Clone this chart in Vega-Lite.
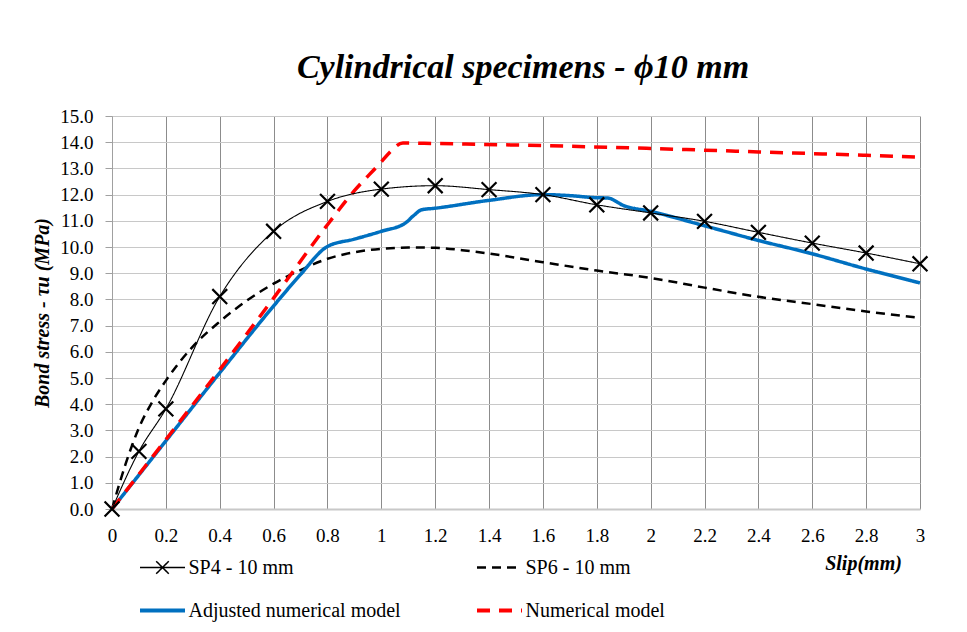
{
  "$schema": "https://vega.github.io/schema/vega-lite/v6.json",
  "width": 808,
  "height": 393,
  "autosize": {"type": "none"},
  "padding": {"left": 112, "top": 116, "right": 47, "bottom": 123},
  "background": "white",
  "title": {"text": "Cylindrical specimens - ϕ10 mm", "font": "Liberation Serif", "fontSize": 34, "fontStyle": "italic", "fontWeight": "bold", "color": "black", "anchor": "middle", "offset": 22, "dx": 7},
  "config": {"view": {"stroke": null}, "font": "Liberation Serif"},
  "data": {"values": [
    {"series": "SP6 - 10 mm", "x": 0, "y": 0},
    {"series": "SP6 - 10 mm", "x": 0.05, "y": 1.7},
    {"series": "SP6 - 10 mm", "x": 0.1, "y": 3.1},
    {"series": "SP6 - 10 mm", "x": 0.15, "y": 4.1},
    {"series": "SP6 - 10 mm", "x": 0.2, "y": 4.9},
    {"series": "SP6 - 10 mm", "x": 0.3, "y": 6.2},
    {"series": "SP6 - 10 mm", "x": 0.4, "y": 7.15},
    {"series": "SP6 - 10 mm", "x": 0.5, "y": 7.95},
    {"series": "SP6 - 10 mm", "x": 0.6, "y": 8.6},
    {"series": "SP6 - 10 mm", "x": 0.7, "y": 9.12},
    {"series": "SP6 - 10 mm", "x": 0.8, "y": 9.55},
    {"series": "SP6 - 10 mm", "x": 0.9, "y": 9.8},
    {"series": "SP6 - 10 mm", "x": 1.0, "y": 9.93},
    {"series": "SP6 - 10 mm", "x": 1.1, "y": 9.98},
    {"series": "SP6 - 10 mm", "x": 1.2, "y": 9.97},
    {"series": "SP6 - 10 mm", "x": 1.3, "y": 9.88},
    {"series": "SP6 - 10 mm", "x": 1.4, "y": 9.75},
    {"series": "SP6 - 10 mm", "x": 1.6, "y": 9.42},
    {"series": "SP6 - 10 mm", "x": 1.8, "y": 9.1},
    {"series": "SP6 - 10 mm", "x": 2.0, "y": 8.82},
    {"series": "SP6 - 10 mm", "x": 2.2, "y": 8.45},
    {"series": "SP6 - 10 mm", "x": 2.4, "y": 8.1},
    {"series": "SP6 - 10 mm", "x": 2.6, "y": 7.82},
    {"series": "SP6 - 10 mm", "x": 2.8, "y": 7.54},
    {"series": "SP6 - 10 mm", "x": 3.0, "y": 7.3},
    {"series": "Adjusted numerical model", "x": 0, "y": 0},
    {"series": "Adjusted numerical model", "x": 0.2, "y": 2.6},
    {"series": "Adjusted numerical model", "x": 0.4, "y": 5.2},
    {"series": "Adjusted numerical model", "x": 0.6, "y": 7.75},
    {"series": "Adjusted numerical model", "x": 0.7, "y": 8.95},
    {"series": "Adjusted numerical model", "x": 0.8, "y": 10.02},
    {"series": "Adjusted numerical model", "x": 0.9, "y": 10.3},
    {"series": "Adjusted numerical model", "x": 1.0, "y": 10.6},
    {"series": "Adjusted numerical model", "x": 1.09, "y": 10.92},
    {"series": "Adjusted numerical model", "x": 1.12, "y": 11.2},
    {"series": "Adjusted numerical model", "x": 1.15, "y": 11.42},
    {"series": "Adjusted numerical model", "x": 1.2, "y": 11.48},
    {"series": "Adjusted numerical model", "x": 1.4, "y": 11.78},
    {"series": "Adjusted numerical model", "x": 1.6, "y": 12.0},
    {"series": "Adjusted numerical model", "x": 1.7, "y": 11.96},
    {"series": "Adjusted numerical model", "x": 1.8, "y": 11.88},
    {"series": "Adjusted numerical model", "x": 1.84, "y": 11.87},
    {"series": "Adjusted numerical model", "x": 1.9, "y": 11.58},
    {"series": "Adjusted numerical model", "x": 2.0, "y": 11.36},
    {"series": "Adjusted numerical model", "x": 2.2, "y": 10.81},
    {"series": "Adjusted numerical model", "x": 2.4, "y": 10.25},
    {"series": "Adjusted numerical model", "x": 2.6, "y": 9.74},
    {"series": "Adjusted numerical model", "x": 2.8, "y": 9.16},
    {"series": "Adjusted numerical model", "x": 3.0, "y": 8.63},
    {"series": "Numerical model", "x": 0, "y": 0},
    {"series": "Numerical model", "x": 0.2, "y": 2.65},
    {"series": "Numerical model", "x": 0.4, "y": 5.32},
    {"series": "Numerical model", "x": 0.6, "y": 8.05},
    {"series": "Numerical model", "x": 0.8, "y": 10.85},
    {"series": "Numerical model", "x": 0.9, "y": 12.15},
    {"series": "Numerical model", "x": 1.0, "y": 13.25},
    {"series": "Numerical model", "x": 1.03, "y": 13.6},
    {"series": "Numerical model", "x": 1.08, "y": 13.97},
    {"series": "Numerical model", "x": 1.2, "y": 13.95},
    {"series": "Numerical model", "x": 1.6, "y": 13.87},
    {"series": "Numerical model", "x": 2.0, "y": 13.76},
    {"series": "Numerical model", "x": 2.4, "y": 13.63},
    {"series": "Numerical model", "x": 2.8, "y": 13.5},
    {"series": "Numerical model", "x": 3.0, "y": 13.43},
    {"series": "SP4 - 10 mm", "x": 0, "y": 0},
    {"series": "SP4 - 10 mm", "x": 0.1, "y": 2.2},
    {"series": "SP4 - 10 mm", "x": 0.2, "y": 3.82},
    {"series": "SP4 - 10 mm", "x": 0.4, "y": 8.11},
    {"series": "SP4 - 10 mm", "x": 0.6, "y": 10.6},
    {"series": "SP4 - 10 mm", "x": 0.8, "y": 11.74},
    {"series": "SP4 - 10 mm", "x": 1.0, "y": 12.21},
    {"series": "SP4 - 10 mm", "x": 1.2, "y": 12.34},
    {"series": "SP4 - 10 mm", "x": 1.4, "y": 12.19},
    {"series": "SP4 - 10 mm", "x": 1.6, "y": 12.0},
    {"series": "SP4 - 10 mm", "x": 1.8, "y": 11.61},
    {"series": "SP4 - 10 mm", "x": 2.0, "y": 11.3},
    {"series": "SP4 - 10 mm", "x": 2.2, "y": 10.98},
    {"series": "SP4 - 10 mm", "x": 2.4, "y": 10.56},
    {"series": "SP4 - 10 mm", "x": 2.6, "y": 10.15},
    {"series": "SP4 - 10 mm", "x": 2.8, "y": 9.77},
    {"series": "SP4 - 10 mm", "x": 3.0, "y": 9.36}
  ]},
  "encoding": {
    "x": {"field": "x", "type": "quantitative",
      "scale": {"domain": [0, 3], "nice": false, "zero": false},
      "axis": {"values": [0, 0.2, 0.4, 0.6, 0.8, 1, 1.2, 1.4, 1.6, 1.8, 2, 2.2, 2.4, 2.6, 2.8, 3], "format": "~g",
        "grid": true, "gridColor": "#8c8c8c", "gridWidth": 1,
        "domain": true, "domainColor": "#c8c8c8", "domainWidth": 2,
        "ticks": false, "tickSize": 0, "labelPadding": 17, "labelFlush": false, "labelOverlap": false,
        "labelFont": "Liberation Serif", "labelFontSize": 19, "labelColor": "black",
        "title": "Slip(mm)", "titleFont": "Liberation Serif", "titleFontSize": 20, "titleFontStyle": "italic", "titleFontWeight": "bold", "titleColor": "black",
        "titleX": 751, "titleY": 54, "titleAlign": "center", "titleBaseline": "middle"}},
    "y": {"field": "y", "type": "quantitative",
      "scale": {"domain": [0, 15], "nice": false, "zero": false},
      "axis": {"values": [0, 1, 2, 3, 4, 5, 6, 7, 8, 9, 10, 11, 12, 13, 14, 15], "format": ".1f",
        "grid": true, "gridColor": "#c8c8c8", "gridWidth": 1,
        "domain": true, "domainColor": "#a0a0a0",
        "ticks": true, "tickSize": 7, "tickColor": "#a0a0a0", "labelPadding": 12, "labelFlush": false, "labelOverlap": false,
        "labelFont": "Liberation Serif", "labelFontSize": 19, "labelColor": "black",
        "title": "Bond stress - τu (MPa)", "titleFont": "Liberation Serif", "titleFontSize": 20, "titleFontStyle": "italic", "titleFontWeight": "bold", "titleColor": "black",
        "titleX": -70, "titleY": 196.5, "titleAngle": 270, "titleAlign": "center", "titleBaseline": "middle"}}
  },
  "layer": [
    {
      "mark": {"type": "line", "interpolate": "monotone"},
      "encoding": {
        "color": {"field": "series", "type": "nominal",
          "scale": {"domain": ["SP4 - 10 mm", "SP6 - 10 mm", "Adjusted numerical model", "Numerical model"], "range": ["#000000", "#000000", "#0070C0", "#FF0000"]},
          "legend": {"title": null, "orient": "none", "legendX": 40.5, "legendY": 441.5, "direction": "horizontal", "columns": 2, "columnPadding": 67, "rowPadding": 23, "padding": 0,
            "symbolType": "stroke", "symbolSize": 2025, "labelFont": "Liberation Serif", "labelFontSize": 20, "labelColor": "black", "labelOffset": 16, "labelLimit": 400,
            "encode": {"symbols": {"update": {
              "shape": {"signal": "datum.value === 'SP4 - 10 mm' ? 'M-1,0H1M-0.28,-0.28L0.28,0.28M-0.28,0.28L0.28,-0.28' : 'stroke'"},
              "strokeWidth": {"signal": "datum.value === 'SP4 - 10 mm' ? 1.5 : (datum.value === 'SP6 - 10 mm' ? 2.5 : 4)"}}}}}},
        "strokeDash": {"field": "series", "type": "nominal",
          "scale": {"domain": ["SP4 - 10 mm", "SP6 - 10 mm", "Adjusted numerical model", "Numerical model"], "range": [[1, 0], [9, 6], [1, 0], [13, 9]]},
          "legend": {"title": null, "orient": "none", "legendX": 40.5, "legendY": 441.5, "direction": "horizontal", "columns": 2, "columnPadding": 67, "rowPadding": 23, "padding": 0,
            "symbolType": "stroke", "symbolSize": 2025, "labelFont": "Liberation Serif", "labelFontSize": 20, "labelColor": "black", "labelOffset": 16, "labelLimit": 400,
            "encode": {"symbols": {"update": {
              "shape": {"signal": "datum.value === 'SP4 - 10 mm' ? 'M-1,0H1M-0.28,-0.28L0.28,0.28M-0.28,0.28L0.28,-0.28' : 'stroke'"},
              "strokeWidth": {"signal": "datum.value === 'SP4 - 10 mm' ? 1.5 : (datum.value === 'SP6 - 10 mm' ? 2.5 : 4)"}}}}}},
        "strokeWidth": {"condition": [
          {"test": "datum.series === 'SP4 - 10 mm'", "value": 1.1},
          {"test": "datum.series === 'SP6 - 10 mm'", "value": 2.5}
        ], "value": 3.5}
      }
    },
    {
      "transform": [{"filter": "datum.series === 'SP4 - 10 mm'"}],
      "mark": {"type": "point", "shape": "M-1,-1L1,1M-1,1L1,-1", "filled": false, "stroke": "black", "strokeWidth": 2.2, "size": 220, "opacity": 1}
    }
  ]
}
